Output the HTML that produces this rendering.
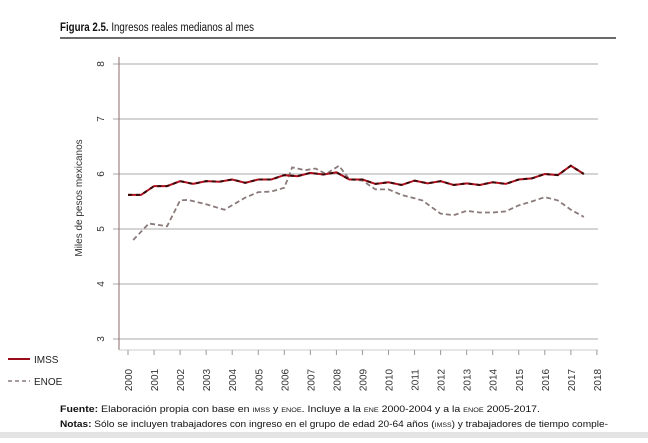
<!DOCTYPE html><html><head><meta charset="utf-8"><style>
body{margin:0;background:#fff;width:648px;height:438px;overflow:hidden;font-family:"Liberation Sans",sans-serif}
</style></head><body>
<svg width="648" height="438" xmlns="http://www.w3.org/2000/svg" font-family="Liberation Sans, sans-serif">
<text x="60" y="31" font-size="11.5" fill="#111" textLength="194" lengthAdjust="spacingAndGlyphs"><tspan font-weight="bold">Figura 2.5.</tspan> Ingresos reales medianos al mes</text>
<line x1="60" y1="38" x2="616" y2="38" stroke="#111" stroke-width="1.3"/>
<g id="grid" stroke="#bbb" stroke-width="1.2"></g>
<line x1="119" y1="57" x2="119" y2="350" stroke="#8a6a6a" stroke-width="1"/>
<line x1="119" y1="350" x2="598" y2="350" stroke="#ccc" stroke-width="1"/>
<g id="yl" font-size="10" fill="#333"></g>
<g id="xl" font-size="10" fill="#333"></g>
<text transform="translate(82,198) rotate(-90)" text-anchor="middle" font-size="10" fill="#333">Miles de pesos mexicanos</text>
<polyline id="enoe" fill="none" stroke="#8a7a7a" stroke-width="1.8" stroke-dasharray="5,3"/>
<polyline id="imss" fill="none" stroke="#b0101e" stroke-width="2"/>
<polyline id="imss2" fill="none" stroke="#3a0a0a" stroke-width="2" stroke-dasharray="4,4"/>
<line x1="8" y1="359" x2="30" y2="359" stroke="#9b0d1a" stroke-width="2"/>
<text x="34" y="363" font-size="10" fill="#222">IMSS</text>
<line x1="8" y1="381" x2="30" y2="381" stroke="#8a7a7a" stroke-width="1.5" stroke-dasharray="4,3"/>
<text x="34" y="385" font-size="10" fill="#222">ENOE</text>
<text x="60" y="412" font-size="9.5" fill="#111" textLength="480" lengthAdjust="spacingAndGlyphs"><tspan font-weight="bold">Fuente:</tspan> Elaboración propia con base en <tspan font-size="6.5">IMSS</tspan> y <tspan font-size="6.5">ENOE</tspan>. Incluye a la <tspan font-size="6.5">ENE</tspan> 2000-2004 y a la <tspan font-size="6.5">ENOE</tspan> 2005-2017.</text>
<text x="60" y="427" font-size="9.5" fill="#111" textLength="548" lengthAdjust="spacingAndGlyphs"><tspan font-weight="bold">Notas:</tspan> Sólo se incluyen trabajadores con ingreso en el grupo de edad 20-64 años (<tspan font-size="6.5">IMSS</tspan>) y trabajadores de tiempo comple-</text>
<rect x="0" y="432" width="648" height="6" fill="#e4e4e4"/>
</svg>
<script>
const X=y=>128+(y-2000)*26.05, Y=v=>174+(6-v)*55;
const g=document.getElementById('grid'),yl=document.getElementById('yl'),xl=document.getElementById('xl');
let s='',t='';
for(let v=3;v<=8;v++){s+=`<line x1="113" x2="598" y1="${Y(v)}" y2="${Y(v)}"/>`;t+=`<text transform="translate(104,${Y(v)}) rotate(-90)" text-anchor="middle">${v}</text>`;}
g.innerHTML=s;yl.innerHTML=t;
let u='';for(let y=2000;y<=2018;y++){u+=`<line x1="${X(y)}" x2="${X(y)}" y1="350" y2="355" stroke="#999"/><text transform="translate(${X(y)+4},380) rotate(-90)" text-anchor="middle">${y}</text>`;}
xl.innerHTML=u;
const im=[5.62,5.62,5.78,5.78,5.87,5.82,5.87,5.86,5.9,5.84,5.9,5.9,5.98,5.96,6.02,5.99,6.03,5.9,5.9,5.82,5.85,5.8,5.88,5.83,5.87,5.8,5.83,5.8,5.85,5.82,5.9,5.92,6.0,5.98,6.15,6.0];
const ip=im.map((v,i)=>X(2000+i*0.5)+','+Y(v)).join(' ');
document.getElementById('imss').setAttribute('points',ip);
document.getElementById('imss2').setAttribute('points',ip);
const en=[[2000.2,4.8],[2000.8,5.1],[2001.5,5.05],[2002,5.52],[2002.3,5.53],[2003,5.45],[2003.7,5.35],[2004.5,5.57],[2005,5.67],[2005.5,5.68],[2006,5.75],[2006.3,6.12],[2006.8,6.07],[2007.2,6.1],[2007.6,6.0],[2008.1,6.15],[2008.5,5.9],[2009,5.88],[2009.5,5.72],[2010,5.72],[2010.5,5.62],[2011.3,5.52],[2012,5.28],[2012.5,5.25],[2013,5.33],[2013.5,5.3],[2014,5.3],[2014.5,5.32],[2015,5.43],[2015.5,5.5],[2016,5.58],[2016.5,5.52],[2017,5.35],[2017.5,5.22]];
document.getElementById('enoe').setAttribute('points',en.map(p=>X(p[0])+','+Y(p[1])).join(' '));
</script>
</body></html>
